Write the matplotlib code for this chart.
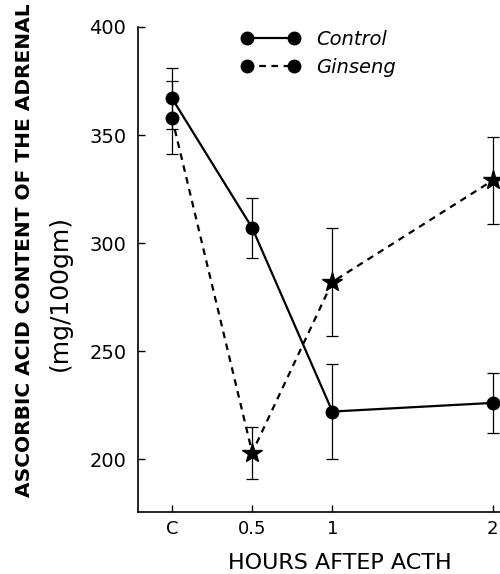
import matplotlib
matplotlib.use("Agg")
import matplotlib.pyplot as plt

# values
hours = [0, 0.5, 1, 2]
hour_labels = ["C", "0.5", "1", "2"]
control = [367, 307, 222, 226]
control_err = [14, 14, 22, 14]
ginseng = [358, 203, 282, 329]
ginseng_err = [17, 12, 25, 20]
y_ticks = [200, 250, 300, 350, 400]

plt.rcParams['font.family'] = ['DejaVu Sans']

fig = plt.figure(figsize=(5.0, 5.74), dpi=100)
ax = fig.add_axes([0.275, 0.108, 0.725, 0.845])

# error bars
ax.errorbar(hours, control, yerr=control_err, fmt='none', ecolor='k',
            elinewidth=0.9, capsize=4, capthick=0.9)
ax.errorbar(hours, ginseng, yerr=ginseng_err, fmt='none', ecolor='k',
            elinewidth=0.9, capsize=4, capthick=0.9)

# control: solid with dots
ax.plot(hours, control, color='k', lw=1.6, marker='o', ms=9)
# ginseng: dashed, dot at C then stars
ax.plot(hours, ginseng, color='k', lw=1.6, ls=(0, (3, 2.5)))
ax.plot(hours[:1], ginseng[:1], 'ko', ms=9)
ax.plot(hours[1:], ginseng[1:], 'k*', ms=15)

# legend handles with a dot at each end
lc, = ax.plot([], [], color='k', lw=1.6, marker='o', ms=9)
lg, = ax.plot([], [], color='k', lw=1.6, ls=(0, (3, 2.5)), marker='o', ms=9)
fig.legend([lc, lg], ["Control", "Ginseng"], numpoints=2,
           loc='upper left', bbox_to_anchor=(0.448, 0.978),
           frameon=False, handlelength=3.0, handletextpad=0.85,
           labelspacing=0.45, prop={'style': 'italic', 'size': 14})

ax.set_xlim(-0.215, 2.045)
ax.set_ylim(175.5, 400)
ax.set_xticks(hours)
ax.set_xticklabels(hour_labels, fontsize=13)
ax.set_yticks(y_ticks)
ax.set_yticklabels([str(v) for v in y_ticks], fontsize=14)
ax.tick_params(direction='in', length=5, width=1, pad=6)
ax.tick_params(axis='y', pad=8)

for s in ['top', 'right']:
    ax.spines[s].set_visible(False)
ax.spines['left'].set_linewidth(1.2)
ax.spines['bottom'].set_linewidth(1.2)

fig.text(0.05, 0.565, "ASCORBIC ACID CONTENT OF THE ADRENAL", rotation=90,
         ha='center', va='center', fontsize=14.5, fontweight='bold')
fig.text(0.12, 0.49, "(mg/100gm)", rotation=90, ha='center', va='center',
         fontsize=18)
fig.text(0.68, 0.02, "HOURS AFTEP ACTH", ha='center', va='center',
         fontsize=16)

fig.savefig("out.png", dpi=100)
